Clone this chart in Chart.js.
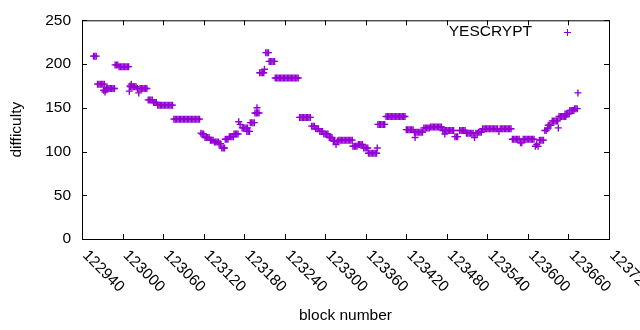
<!DOCTYPE html>
<html>
<head>
<meta charset="utf-8">
<script src="https://cdn.jsdelivr.net/npm/chart.js@4.4.1/dist/chart.umd.min.js"></script>
<style>
  html, body { margin: 0; padding: 0; background: #fff; }
  #wrap { width: 640px; height: 330px; }
</style>
</head>
<body>
<div id="wrap"><canvas id="chart1" width="640" height="330"></canvas></div>
<script>
// block heights (x) and difficulty (y)
const blocks = [
  122957, 122959, 122961,
  122963, 122965, 122967, 122969, 122971, 122973,
  122972, 122974, 122975,
  122976, 122978, 122980, 122982, 122984, 122986, 122988,
  122989, 122991, 122993,
  122995, 122997, 122999, 123001, 123003, 123005, 123007, 123009,
  123010, 123013,
  123011, 123012, 123014, 123016, 123018, 123020,
  123022, 123024, 123026, 123028, 123030, 123032, 123034, 123036,
  123038, 123040, 123042, 123044,
  123046, 123048, 123050,
  123052, 123054, 123056, 123058, 123060, 123062, 123064, 123066, 123068, 123070, 123072, 123074,
  123076, 123078, 123080, 123082, 123084, 123086, 123088, 123090, 123092, 123094,
  123096, 123098, 123100, 123102, 123104, 123106, 123108, 123110, 123112, 123114,
  123116, 123118, 123120,
  123122, 123124, 123126, 123128,
  123130, 123132, 123134,
  123136, 123138, 123140, 123142,
  123143, 123145,
  123147, 123149, 123151,
  123152, 123154, 123156,
  123158, 123160, 123162, 123164,
  123165, 123167, 123169, 123171,
  123172, 123174,
  123177, 123179, 123181, 123183, 123185,
  123184, 123186, 123188,
  123189, 123191, 123193, 123195,
  123196, 123198, 123199, 123200, 123202,
  123203, 123205, 123207, 123209, 123210,
  123212, 123214, 123216,
  123217, 123219, 123221, 123223, 123225,
  123226, 123228, 123230, 123232, 123234, 123236, 123238, 123240, 123242,
  123244, 123246, 123248, 123250, 123252, 123254, 123256, 123258, 123260,
  123262, 123264, 123266, 123268, 123270, 123272, 123274, 123276, 123278,
  123280, 123282, 123284,
  123286, 123288, 123290,
  123292, 123294, 123296,
  123298, 123300, 123302, 123304,
  123306, 123308, 123310,
  123312, 123314, 123316, 123318,
  123320, 123322, 123324, 123326, 123328, 123330, 123332, 123334, 123336, 123338, 123340,
  123341, 123343, 123345, 123347,
  123349, 123351, 123353, 123355,
  123357, 123359, 123361, 123363,
  123364, 123366, 123368, 123370, 123372, 123374, 123376, 123377,
  123378, 123380, 123382, 123384, 123386, 123388,
  123390, 123392, 123394, 123396, 123398, 123400, 123402, 123404,
  123406, 123408, 123410, 123412, 123414, 123416, 123418,
  123420, 123422, 123424, 123426, 123428, 123430,
  123432, 123433, 123434, 123436, 123438, 123440, 123442, 123444,
  123446, 123448, 123450, 123452, 123454,
  123456, 123458, 123460, 123462, 123464, 123466, 123468, 123470, 123472,
  123474, 123476, 123477, 123478, 123480, 123482, 123484, 123486, 123488, 123490,
  123492, 123494, 123496,
  123499, 123501, 123503, 123505, 123507,
  123509, 123511, 123513, 123515, 123517, 123519, 123521, 123523, 123525,
  123527, 123529, 123531,
  123533, 123535, 123537, 123539, 123541, 123543, 123545, 123547, 123549, 123551, 123553,
  123555, 123557, 123559, 123561, 123563, 123565, 123567, 123569, 123571, 123573, 123575,
  123577, 123579, 123581, 123583, 123585, 123587,
  123589, 123591,
  123593, 123595, 123597, 123599, 123601, 123603, 123605, 123607, 123609,
  123611, 123613, 123615,
  123617, 123619, 123621, 123623,
  123625, 123627, 123629,
  123630, 123632, 123634,
  123636, 123638, 123640, 123642, 123644, 123645,
  123646, 123648, 123650, 123652, 123654, 123656,
  123655, 123657, 123659, 123661,
  123662, 123664, 123666, 123668,
  123669, 123671, 123673,
  123674
];

const difficulty = [
  209, 209, 209,
  177, 177, 177, 177, 177, 177,
  170, 168, 170,
  172, 172, 172, 172, 172, 172, 172,
  199, 199, 199,
  197, 197, 197, 197, 197, 197, 197, 197,
  169, 177,
  175, 174, 174, 174, 174, 174,
  172, 167, 172, 172, 172, 172, 172, 172,
  159, 159, 159, 159,
  156, 156, 156,
  153, 153, 153, 153, 153, 153, 153, 153, 153, 153, 153, 153,
  137, 137, 137, 137, 137, 137, 137, 137, 137, 137,
  137, 137, 137, 137, 137, 137, 137, 137, 137, 137,
  121, 120, 120,
  116, 116, 116, 116,
  113, 113, 113,
  111, 111, 111, 111,
  109, 109,
  104, 104, 104,
  114, 114, 114,
  117, 117, 117, 117,
  120, 120, 120, 120,
  134, 131,
  127, 127, 127, 127, 127,
  123, 123, 123,
  133, 133, 133, 133,
  144, 144, 150, 144, 144,
  190, 190, 190, 190, 194,
  213, 213, 213,
  203, 203, 203, 203, 203,
  184, 184, 184, 184, 184, 184, 184, 184, 184,
  184, 184, 184, 184, 184, 184, 184, 184, 184,
  139, 139, 139, 139, 139, 139, 139, 139, 139,
  129, 129, 129,
  126, 126, 126,
  123, 123, 123,
  120, 120, 120, 120,
  116, 116, 116,
  112, 112, 108, 112,
  113, 113, 113, 113, 113, 113, 113, 113, 113, 113, 113,
  106, 106, 106, 106,
  108, 108, 108, 108,
  104, 104, 104, 104,
  98, 98, 98, 98, 98, 98, 98, 104,
  131, 131, 131, 131, 131, 131,
  140, 140, 140, 140, 140, 140, 140, 140,
  140, 140, 140, 140, 140, 140, 140,
  125, 125, 125, 125, 125, 125,
  122, 116, 122, 122, 122, 122, 122, 122,
  127, 127, 127, 127, 127,
  128, 128, 128, 128, 128, 128, 128, 128, 128,
  124, 124, 120, 124, 124, 124, 124, 124, 124, 124,
  117, 117, 117,
  124, 124, 124, 124, 124,
  121, 121, 121, 121, 121, 121, 116, 121, 121,
  122, 122, 122,
  126, 126, 126, 126, 126, 126, 126, 126, 126, 126, 126,
  126, 123, 126, 126, 126, 126, 126, 126, 126, 126, 126,
  114, 114, 114, 114, 114, 114,
  110, 110,
  114, 114, 114, 114, 114, 114, 114, 114, 114,
  106, 108, 106,
  113, 113, 113, 113,
  124, 124, 126,
  130, 130, 130,
  135, 135, 135, 135, 135, 127,
  140, 140, 140, 140, 140, 140,
  143, 143, 143, 143,
  147, 147, 147, 147,
  149, 149, 149,
  167
];

const xTicks = [122940, 123000, 123060, 123120, 123180, 123240, 123300, 123360,
                123420, 123480, 123540, 123600, 123660, 123720];
const yTicks = [0, 50, 100, 150, 200, 250];
const seriesName = 'YESCRYPT';

const purple = '#9400d3';
const fontFamily = '"Liberation Sans", Arial, sans-serif';
const fontSize = 15.5;

// gnuplot style frame: box, inward ticks on all sides, rotated x labels, titles, key
const gnuplotFrame = {
  id: 'gnuplotFrame',
  afterDraw(chart) {
    const ctx = chart.ctx;
    const a = chart.chartArea;
    const xs = chart.scales.x;
    const ys = chart.scales.y;
    const tl = 5;
    ctx.save();
    ctx.strokeStyle = '#000';
    ctx.lineWidth = 1;
    ctx.strokeRect(a.left + 0.5, a.top + 0.5, a.right - a.left, a.bottom - a.top);

    ctx.beginPath();
    xTicks.forEach(v => {
      const px = Math.round(xs.getPixelForValue(v)) + 0.5;
      ctx.moveTo(px, a.bottom); ctx.lineTo(px, a.bottom - tl);
      ctx.moveTo(px, a.top); ctx.lineTo(px, a.top + tl);
    });
    yTicks.forEach(v => {
      const py = Math.round(ys.getPixelForValue(v)) + 0.5;
      ctx.moveTo(a.left, py); ctx.lineTo(a.left + tl, py);
      ctx.moveTo(a.right, py); ctx.lineTo(a.right - tl, py);
    });
    ctx.stroke();

    ctx.fillStyle = '#000';
    ctx.font = fontSize + 'px ' + fontFamily;
    ctx.textAlign = 'left';
    ctx.textBaseline = 'middle';
    xTicks.forEach(v => {
      const px = xs.getPixelForValue(v);
      ctx.save();
      ctx.translate(px + 3, a.bottom + 14);
      ctx.rotate(Math.PI / 4);
      ctx.fillText(String(v), 0, 0);
      ctx.restore();
    });

    // axis titles
    ctx.textAlign = 'center';
    ctx.fillText('block number', (a.left + a.right) / 2, 316);
    ctx.save();
    ctx.translate(17, (a.top + a.bottom) / 2);
    ctx.rotate(-Math.PI / 2);
    ctx.fillText('difficulty', 0, 0);
    ctx.restore();

    // key
    ctx.textAlign = 'right';
    ctx.fillText(seriesName, 532, 32);
    ctx.strokeStyle = purple;
    ctx.beginPath();
    ctx.moveTo(564, 32.5); ctx.lineTo(571, 32.5);
    ctx.moveTo(567.5, 29); ctx.lineTo(567.5, 36);
    ctx.stroke();
    ctx.restore();
  }
};

const ctx1 = document.getElementById('chart1').getContext('2d');
new Chart(ctx1, {
  type: 'scatter',
  data: {
    datasets: [{
      label: seriesName,
      data: blocks.map((b, i) => ({ x: b, y: difficulty[i] })),
      pointStyle: 'cross',
      pointRadius: 3.5,
      pointHoverRadius: 3.5,
      borderColor: purple,
      backgroundColor: purple,
      borderWidth: 1.4,
      showLine: false
    }]
  },
  options: {
    responsive: false,
    animation: false,
    devicePixelRatio: 1,
    layout: { padding: { top: 19, right: 31, left: 0, bottom: 0 } },
    plugins: {
      legend: { display: false },
      tooltip: { enabled: false }
    },
    scales: {
      x: {
        type: 'linear',
        min: 122940,
        max: 123720,
        afterBuildTicks: s => { s.ticks = xTicks.map(v => ({ value: v })); },
        afterFit: s => { s.height = 91; },
        ticks: { display: false },
        grid: { display: false },
        border: { display: false }
      },
      y: {
        min: 0,
        max: 250,
        afterBuildTicks: s => { s.ticks = yTicks.map(v => ({ value: v })); },
        afterFit: s => { s.width = 82; },
        ticks: {
          color: '#000',
          padding: 11,
          font: { family: fontFamily, size: fontSize }
        },
        grid: { display: false, drawTicks: false },
        border: { display: false }
      }
    }
  },
  plugins: [gnuplotFrame]
});
</script>
</body>
</html>
